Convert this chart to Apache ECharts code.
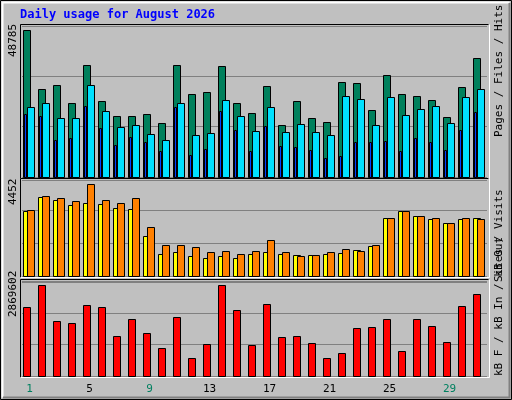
<!DOCTYPE html>
<html><head><meta charset="utf-8">
<script src="https://cdn.jsdelivr.net/npm/echarts@6/dist/echarts.min.js"></script>
<style>html,body{margin:0;padding:0;background:#c0c0c0}#c{width:512px;height:400px}</style>
</head><body><div id="c"></div>
<script>
const days = ['1','2','3','4','5','6','7','8','9','10','11','12','13','14','15','16','17','18','19','20','21','22','23','24','25','26','27','28','29','30','31'];
const weekend = [1,2,8,9,15,16,22,23,29,30];
const hits = [48785,29256,30581,24619,37205,25282,20314,20314,20976,17995,37205,27600,28262,36874,24619,21307,30250,17333,25282,19651,18326,31574,31243,22301,33893,27600,26938,25613,19982,29918,39523];
const files = [23294,24619,19651,19651,30581,21970,16670,17333,14352,12365,24619,14021,14683,25613,20314,15346,23294,15014,17664,15014,14021,26938,25944,17333,26606,20645,22632,23626,17995,26606,29256];
const pages = [20976,20314,12365,13027,23626,16339,10709,13358,11702,8722,23294,7397,9384,21970,15677,8722,17002,10378,10046,9053,6403,7066,11702,11702,12034,8722,13027,11702,9053,15677,21638];
const visits = [3141,3821,3675,3432,3529,3481,3287,3238,1927,1052,1149,955,858,955,858,1052,1149,1052,1004,1004,1052,1101,1247,1441,2801,3141,2898,2752,2558,2752,2801];
const sites = [3189,3869,3772,3627,4452,3675,3529,3772,2364,1489,1489,1392,1149,1198,1052,1198,1732,1149,955,1004,1149,1295,1198,1489,2801,3141,2898,2801,2558,2801,2752];
const kbytes = [2178384,2869602,1738518,1675680,2241222,2178384,1267233,1801356,1361490,890205,1864194,576015,1015881,2869602,2084127,984462,2272641,1235814,1267233,1047300,576015,733110,1518585,1549970,1801356,795948,1801356,1581423,1078719,2209803,2586831];

const chart = echarts.init(document.getElementById('c'));
function bars(data, color, off, w, gi) {
  return {
    type: 'custom', xAxisIndex: gi, yAxisIndex: gi, data: data.map((v,i)=>[i,v]),
    renderItem: function(params, api) {
      const cw = api.size([1,0])[0];
      const p = api.coord([api.value(0), api.value(1)]);
      const b = api.coord([api.value(0), 0]);
      const x0 = p[0] - cw/2 + off;
      return {type:'rect', shape:{x:Math.round(x0)+0.5, y:Math.round(p[1])+0.5, width:w, height:Math.round(b[1])-Math.round(p[1])},
        style:{fill:color, stroke:'#000', lineWidth:1}};
    }, z: 2
  };
}
const grids = [{left:22,top:26,width:465,height:151},{left:22,top:180,width:465,height:96},{left:22,top:281,width:465,height:95}];
const maxes = [50010, 4663, 2984805], ints = [16670, 1603, 984000];
const xAxis = grids.map((g,i)=>({type:'category', gridIndex:i, data:days, boundaryGap:true,
  axisLine:{show:false}, axisTick:{show:false},
  axisLabel:{show:i===2, margin:8, fontFamily:'DejaVu Sans Mono', fontSize:11,
    formatter:(v)=> weekend.includes(+v) ? '{w|'+v+'}' : '{n|'+v+'}',
    rich:{w:{color:'#008060',fontFamily:'DejaVu Sans Mono',fontSize:11},n:{color:'#000',fontFamily:'DejaVu Sans Mono',fontSize:11}}}}));
const yAxis = grids.map((g,i)=>({type:'value', gridIndex:i, min:0, max:maxes[i], interval:ints[i],
  axisLine:{show:false}, axisTick:{show:false}, axisLabel:{show:false},
  splitLine:{show:true, lineStyle:{color:'#808080', width:1}}}));
function frame(g){
  const x=g.left, y=g.top, w=g.width, h=g.height;
  return [
    {type:'line', shape:{x1:x-1.5,y1:y-1.5,x2:x+w+1.5,y2:y-1.5}, style:{stroke:'#000',lineWidth:1}},
    {type:'line', shape:{x1:x-1.5,y1:y-1.5,x2:x-1.5,y2:y+h+1.5}, style:{stroke:'#000',lineWidth:1}},
    {type:'line', shape:{x1:x-1.5,y1:y+h+1.5,x2:x+w+2.5,y2:y+h+1.5}, style:{stroke:'#fff',lineWidth:1}},
    {type:'line', shape:{x1:x+w+2.5,y1:y-1.5,x2:x+w+2.5,y2:y+h+1.5}, style:{stroke:'#fff',lineWidth:1}}
  ];
}
const mono = 'DejaVu Sans Mono';
function vtext(x, y, rich, text){
  return {type:'text', x:x, y:y, rotation:Math.PI/2, z:10,
    style:{text:text, rich:rich, fontFamily:mono, fontSize:11, align:'left', verticalAlign:'middle'}};
}
const R = (c)=>({color:c, fontFamily:mono, fontSize:11});
const graphic = [
  {type:'rect', shape:{x:0.5,y:0.5,width:511,height:399}, style:{fill:'none',stroke:'#000',lineWidth:1}, z:-1},
  {type:'polyline', shape:{points:[[2.5,397.5],[2.5,2.5],[509.5,2.5]]}, style:{stroke:'#fff',fill:'none',lineWidth:2}},
  {type:'polyline', shape:{points:[[3,397.5],[509.5,397.5],[509.5,3]]}, style:{stroke:'#808080',fill:'none',lineWidth:2}},
  {type:'text', x:20, y:15, style:{text:'Daily usage for August 2026', fill:'#0000ff', fontFamily:mono, fontSize:12, fontWeight:'bold', verticalAlign:'middle'}},
  ...grids.flatMap(frame),
  vtext(13, 57, {n:R('#000')}, '{n|48785}'),
  vtext(13, 205, {n:R('#000')}, '{n|4452}'),
  vtext(13, 317, {n:R('#000')}, '{n|2869602}'),
  vtext(499, 137, {a:R('#00e0ff'),b:R('#0040ff'),c:R('#008060'),s:R('#606060')}, '{a|Pages} {s|/} {b|Files} {s|/} {c|Hits}'),
  vtext(499, 282, {a:R('#ff8000'),b:R('#ffff00'),s:R('#606060')}, '{a|Sites} {s|/} {b|Visits}'),
  vtext(499, 376, {a:R('#ff0000'),b:R('#0080ff'),c:R('#00c000'),s:R('#606060')}, '{a|kB F} {s|/} {b|kB In} {s|/} {c|kB Out}')
];
chart.setOption({
  backgroundColor:'#c0c0c0', animation:false,
  grid: grids, xAxis: xAxis, yAxis: yAxis, graphic: graphic,
  series: [
    bars(hits, '#00805c', 1, 7, 0),
    bars(files, '#00e0ff', 5, 7, 0),
    bars(pages, '#0040ff', 2, 2, 0),
    bars(visits, '#ffff00', 1, 7, 1),
    bars(sites, '#ff8000', 5, 7, 1),
    bars(kbytes, '#ff0000', 1, 7, 2)
  ]
});
</script></body></html>
